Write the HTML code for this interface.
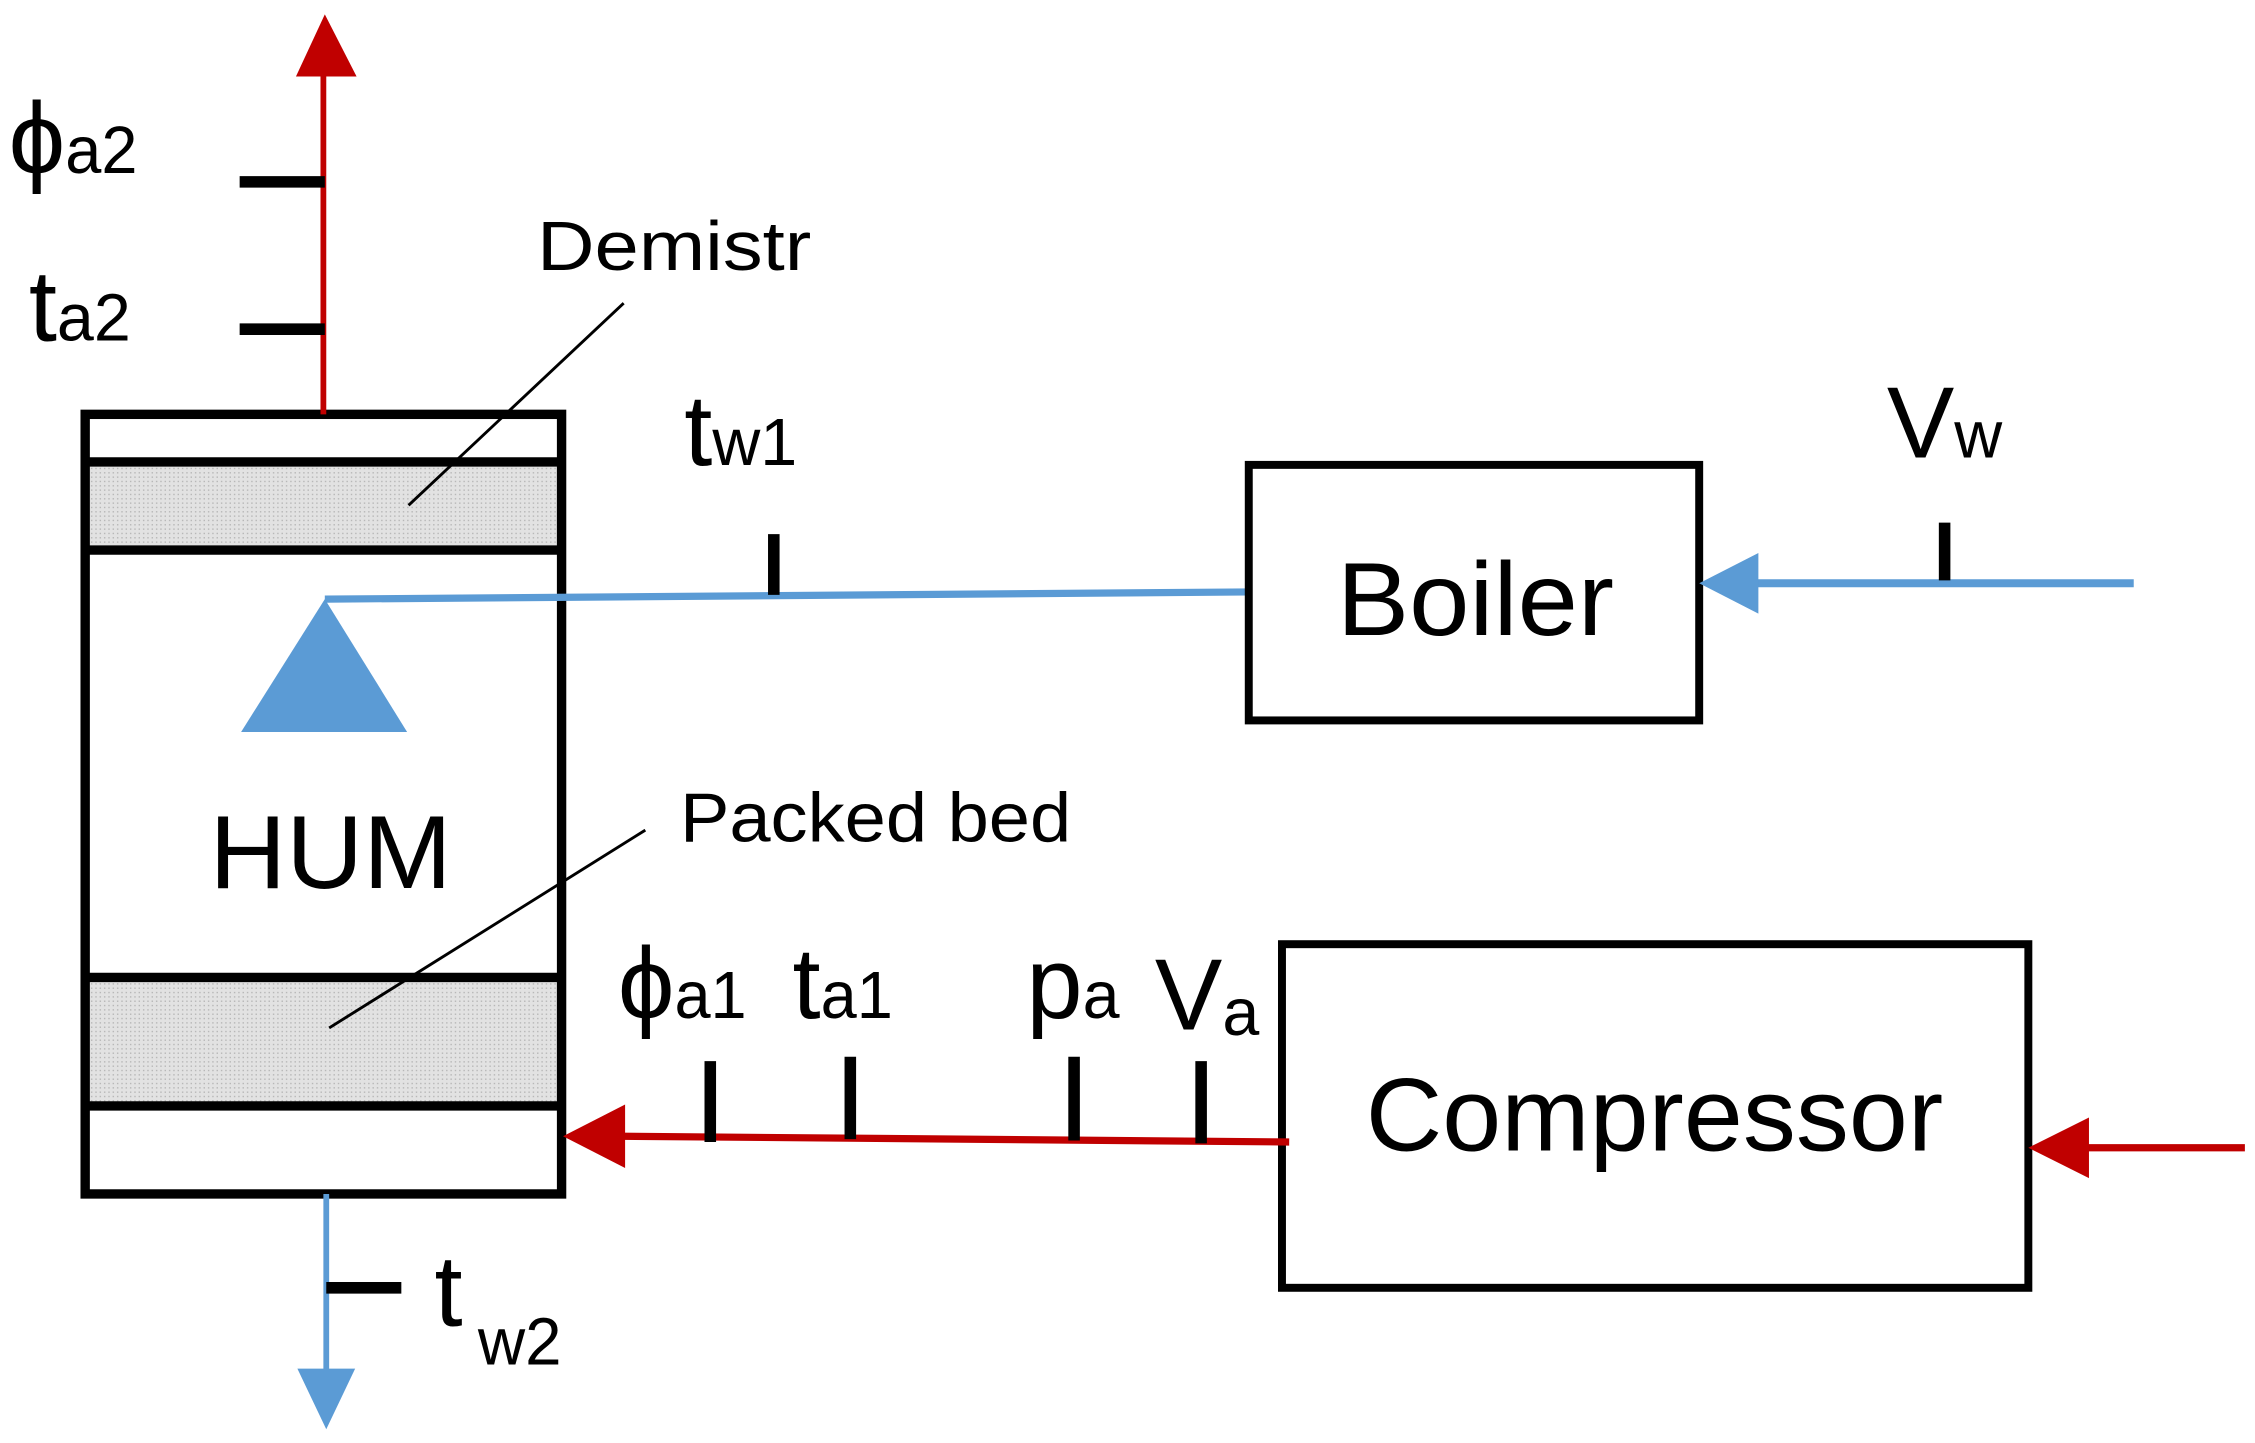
<!DOCTYPE html>
<html><head><meta charset="utf-8"><style>
html,body{margin:0;padding:0;background:#fff;}
svg{display:block;}
text{font-family:"Liberation Sans",sans-serif;fill:#000;}
</style></head><body>
<svg width="2255" height="1443" viewBox="0 0 1562 999.5" preserveAspectRatio="none" xmlns="http://www.w3.org/2000/svg">
<defs>
<pattern id="dots" width="3" height="3" patternUnits="userSpaceOnUse">
<rect width="3" height="3" fill="#e2e2e2"/><rect width="1" height="1" fill="#b8b8b8"/>
</pattern>
</defs>
<!-- HUM column -->
<rect x="62" y="322" width="325" height="58" fill="url(#dots)"/>
<rect x="62" y="679" width="325" height="86" fill="url(#dots)"/>
<rect x="59" y="287" width="330" height="540" fill="none" stroke="#000" stroke-width="6.5"/>
<line x1="59" y1="320" x2="390" y2="320" stroke="#000" stroke-width="6.5"/>
<line x1="59" y1="381" x2="390" y2="381" stroke="#000" stroke-width="6.5"/>
<line x1="59" y1="677" x2="390" y2="677" stroke="#000" stroke-width="6.5"/>
<line x1="59" y1="766" x2="390" y2="766" stroke="#000" stroke-width="6.5"/>
<!-- red up arrow -->
<line x1="224" y1="287" x2="224" y2="45" stroke="#c00000" stroke-width="4"/>
<polygon points="225,10 205,53 247,53" fill="#c00000"/>
<line x1="166" y1="126" x2="225" y2="126" stroke="#000" stroke-width="8"/>
<line x1="166" y1="228" x2="225" y2="228" stroke="#000" stroke-width="8"/>
<text x="6" y="120" font-size="70">ϕ<tspan font-size="46" textLength="50" lengthAdjust="spacingAndGlyphs">a2</tspan></text>
<text x="20" y="236" font-size="70" >t<tspan font-size="46">a2</tspan></text>
<!-- leaders -->
<line x1="432" y1="210" x2="283" y2="350" stroke="#000" stroke-width="2"/>
<line x1="447" y1="575" x2="228" y2="712" stroke="#000" stroke-width="2"/>
<text x="372" y="187" font-size="48" textLength="190" lengthAdjust="spacingAndGlyphs">Demistr</text>
<text x="471" y="583" font-size="48" textLength="271" lengthAdjust="spacingAndGlyphs">Packed bed</text>
<text x="145" y="615" font-size="72" textLength="168" lengthAdjust="spacingAndGlyphs">HUM</text>
<!-- blue water line -->
<polygon points="225,415 167,507 282,507" fill="#5b9bd5"/>
<polyline points="225,415 865,410" fill="none" stroke="#5b9bd5" stroke-width="5"/>
<line x1="536" y1="370" x2="536" y2="412" stroke="#000" stroke-width="8"/>
<text x="474" y="322" font-size="70">t<tspan font-size="46">w1</tspan></text>
<!-- Boiler -->
<rect x="865" y="322" width="312" height="177" fill="none" stroke="#000" stroke-width="5.5"/>
<text x="926" y="440" font-size="72" textLength="192" lengthAdjust="spacingAndGlyphs">Boiler</text>
<line x1="1215" y1="404" x2="1478" y2="404" stroke="#5b9bd5" stroke-width="5.5"/>
<polygon points="1177,404 1218,383 1218,425" fill="#5b9bd5"/>
<line x1="1347" y1="362" x2="1347" y2="402" stroke="#000" stroke-width="8"/>
<text x="1307" y="317" font-size="70">V<tspan font-size="46">w</tspan></text>
<!-- Compressor -->
<rect x="888" y="654" width="517" height="238" fill="none" stroke="#000" stroke-width="5.5"/>
<text x="946" y="797" font-size="72" textLength="400" lengthAdjust="spacingAndGlyphs">Compressor</text>
<line x1="1445" y1="795" x2="1555" y2="795" stroke="#c00000" stroke-width="5"/>
<polygon points="1405,795 1447,774 1447,816" fill="#c00000"/>
<!-- red air line into HUM -->
<polyline points="893,791 430,787" fill="none" stroke="#c00000" stroke-width="5"/>
<polygon points="390,787 433,765 433,809" fill="#c00000"/>
<line x1="492" y1="735" x2="492" y2="791" stroke="#000" stroke-width="8"/>
<line x1="589" y1="732" x2="589" y2="789" stroke="#000" stroke-width="8"/>
<line x1="744" y1="732" x2="744" y2="790" stroke="#000" stroke-width="8"/>
<line x1="832" y1="735" x2="832" y2="792" stroke="#000" stroke-width="8"/>
<text x="428" y="705" font-size="70">ϕ<tspan font-size="46" textLength="50" lengthAdjust="spacingAndGlyphs">a1</tspan></text>
<text x="549" y="705" font-size="70">t<tspan font-size="46" textLength="50" lengthAdjust="spacingAndGlyphs">a1</tspan></text>
<text x="711" y="705" font-size="70">p<tspan font-size="46">a</tspan></text>
<text x="800" y="713" font-size="70">V<tspan font-size="46" dy="4">a</tspan></text>
<!-- bottom blue out -->
<line x1="226" y1="827" x2="226" y2="955" stroke="#5b9bd5" stroke-width="4"/>
<polygon points="206,948 246,948 226,990" fill="#5b9bd5"/>
<line x1="226" y1="892" x2="278" y2="892" stroke="#000" stroke-width="8"/>
<text x="301" y="918" font-size="70">t</text>
<text x="331" y="945" font-size="46" textLength="58" lengthAdjust="spacingAndGlyphs">w2</text>
</svg>
</body></html>
